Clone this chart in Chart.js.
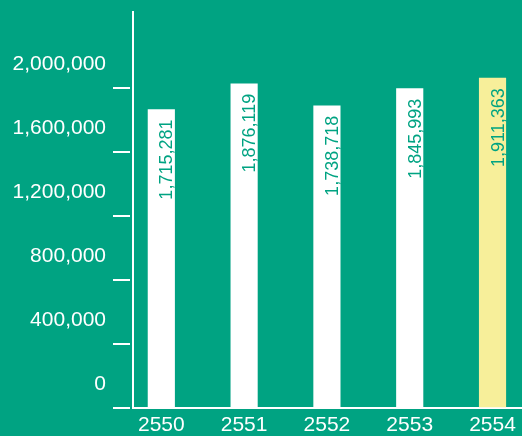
<!DOCTYPE html>
<html>
<head>
<meta charset="utf-8">
<script src="https://cdn.jsdelivr.net/npm/chart.js@4.4.1/dist/chart.umd.min.js"></script>
<style>
  html, body { margin: 0; padding: 0; background: #00A382; }
  #c { display: block; }
</style>
</head>
<body>
<canvas id="c" width="522" height="436"></canvas>
<script>
// ---- data ----
const years = ['2550', '2551', '2552', '2553', '2554'];
const values = [1715281, 1876119, 1738718, 1845993, 1911363];
const yTickValues = [0, 400000, 800000, 1200000, 1600000, 2000000];

// ---- styling ----
const GREEN = '#00A382';
const YELLOW = '#F7EF9A';
const WHITE = '#FFFFFF';
const FONT = "'Liberation Sans', Arial, Helvetica, sans-serif";
const MARK_SHIFT = 150000; // tick marks sit this far (in value units) below their labels
const highlight = years.length - 1;

const fmt = v => Math.round(v).toLocaleString('en-US');

const barLabels = {
  id: 'barLabels',
  afterDatasetsDraw(chart) {
    const ctx = chart.ctx;
    const meta = chart.getDatasetMeta(0);
    ctx.save();
    ctx.fillStyle = GREEN;
    ctx.font = '18px ' + FONT;
    ctx.textAlign = 'right';
    ctx.textBaseline = 'alphabetic';
    meta.data.forEach((bar, i) => {
      ctx.save();
      ctx.translate(bar.x + 11, bar.y + 10);
      ctx.rotate(-Math.PI / 2);
      ctx.fillText(fmt(values[i]), 0, 0);
      ctx.restore();
    });
    ctx.restore();
  }
};

new Chart(document.getElementById('c'), {
  type: 'bar',
  data: {
    datasets: [{
      data: years.map((_, i) => ({ x: i, y: values[i] })),
      base: -MARK_SHIFT,
      backgroundColor: c => c.dataIndex === highlight ? YELLOW : WHITE,
      borderWidth: 0,
      barThickness: 26.5
    }]
  },
  options: {
    responsive: false,
    animation: false,
    layout: { padding: { top: 12, left: 0, right: 0, bottom: 0 } },
    plugins: { legend: { display: false }, tooltip: { enabled: false } },
    scales: {
      x: {
        type: 'linear',
        offset: false,
        min: -0.342,
        max: 4.356,
        afterBuildTicks: s => { s.ticks = years.map((_, i) => ({ value: i })); },
        afterFit: s => { s.height = 28; s.paddingLeft = 0; s.paddingRight = 0; },
        grid: { display: false, drawTicks: false, offset: false },
        border: { display: true, color: WHITE, width: 2 },
        ticks: {
          autoSkip: false,
          maxRotation: 0,
          color: WHITE,
          padding: 5,
          font: { family: FONT, size: 21 },
          callback: v => years[v]
        }
      },
      y: {
        type: 'linear',
        min: -MARK_SHIFT,
        max: 2325000,
        afterBuildTicks: s => { s.ticks = yTickValues.map(v => ({ value: v - MARK_SHIFT })); },
        afterFit: s => { s.width = 133; s.paddingTop = 0; s.paddingBottom = 0; },
        grid: {
          display: true,
          drawOnChartArea: false,
          drawTicks: true,
          tickLength: 20,
          tickColor: WHITE,
          tickWidth: 2,
          tickBorderDash: [17, 10],
          lineWidth: 2,
          color: WHITE
        },
        border: { display: true, color: WHITE, width: 2 },
        ticks: {
          autoSkip: false,
          color: WHITE,
          padding: 7,
          labelOffset: -24,
          font: { family: FONT, size: 21 },
          callback: v => fmt(v + MARK_SHIFT)
        }
      }
    }
  },
  plugins: [barLabels]
});
</script>
</body>
</html>
